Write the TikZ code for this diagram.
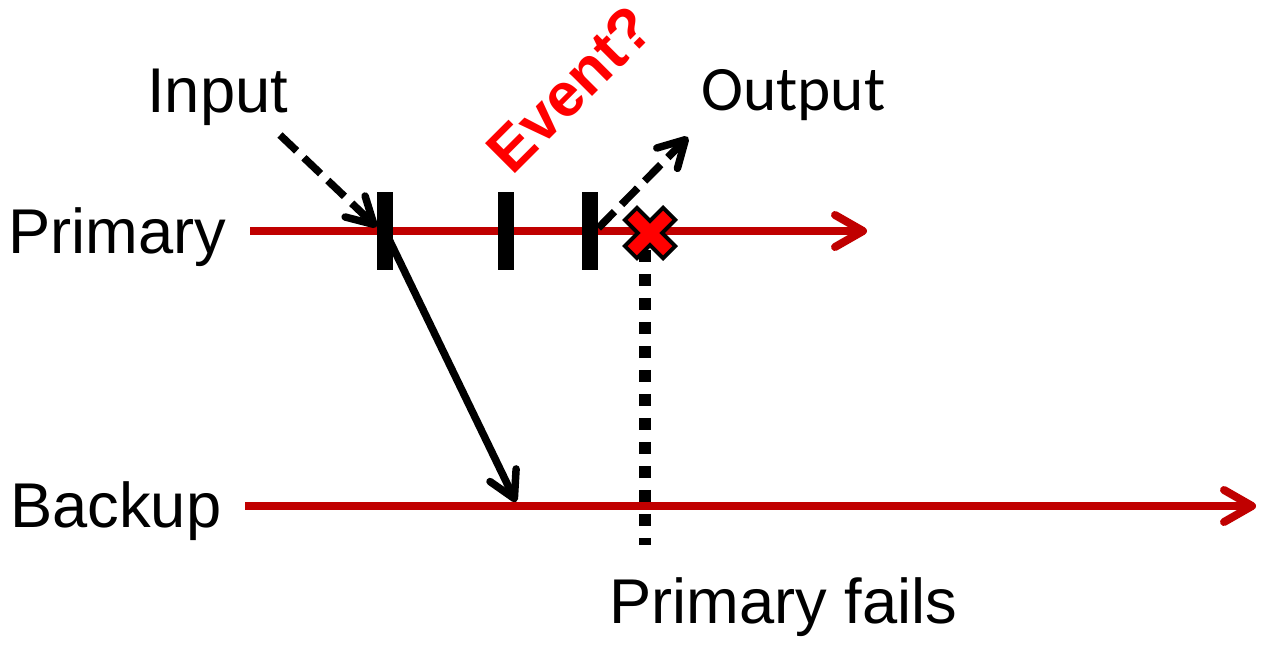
\documentclass[tikz,border=0pt]{standalone}
\usepackage{fontspec}
\setmainfont{Liberation Sans}
\newfontfamily\outfont{Carlito}
\usetikzlibrary{arrows.meta}
\definecolor{darkred}{RGB}{192,0,0}
\begin{document}
\begin{tikzpicture}[x=0.02cm,y=-0.02cm,
    lbl/.style={font=\fontsize{36}{43}\selectfont,inner sep=0pt,anchor=base west},
    timeline/.style={draw=darkred,line width=0.16cm,-{Straight Barb[length=0.56cm,width=0.64cm,round]}},
    msg/.style={draw=black,line width=0.15cm,-{Straight Barb[length=0.52cm,width=0.58cm,round]}},
    msgdashed/.style={msg,dash pattern=on 0.46cm off 0.2cm},
    bar/.style={fill=black,inner sep=0pt,minimum width=0.32cm,minimum height=1.58cm}]
    \useasboundingbox (0,0) rectangle (1268,656);
    % labels
    \node[lbl] (primary) at (8,253) {Primary};
    \node[lbl] (backup) at (10,527) {Backup};
    \node[lbl] (input) at (147,112) {Input};
    \node[lbl,font=\outfont\fontsize{36}{43}\selectfont] (output) at (701,110) {Output};
    \node[lbl,font=\fontsize{35}{42}\selectfont\bfseries,text=red,rotate=45] (event) at (512,177) {Event?};
    \node[lbl] (fails) at (609,623) {Primary fails};
    % time lines
    \coordinate (pstart) at (250,231);
    \coordinate (pend) at (867,231);
    \coordinate (bstart) at (245,506);
    \coordinate (bend) at (1256,506);
    \draw[timeline] (pstart) -- (pend);
    \draw[timeline] (bstart) -- (bend);
    % failure line
    \coordinate (ftop) at (645,250);
    \coordinate (fbot) at (645,545);
    \draw[line width=0.24cm,dash pattern=on 0.24cm off 0.24cm] (ftop) -- (fbot);
    % events on primary
    \node[bar] (b1) at (385,231) {};
    \node[bar] (b2) at (506,231) {};
    \node[bar] (b3) at (590,231) {};
    % messages
    \coordinate (instart) at (280,135);
    \coordinate (outend) at (688,137);
    \coordinate (brecv) at (516,502);
    \draw[msgdashed] (instart) -- ([yshift=0.08cm]b1.west);
    \draw[msg] (b1.center) -- (brecv);
    \draw[msgdashed] ([yshift=0.06cm]b3.east) -- (outend);
    % failure mark
    \coordinate (fail) at (650,233);
    \begin{scope}[shift={(fail)}]
        \draw[line width=0.42cm] (-20.5,-20.5) -- (20.5,20.5) (-20.5,20.5) -- (20.5,-20.5);
        \draw[red,line width=0.26cm] (-17.7,-17.7) -- (17.7,17.7) (-17.7,17.7) -- (17.7,-17.7);
    \end{scope}
\end{tikzpicture}
\end{document}
